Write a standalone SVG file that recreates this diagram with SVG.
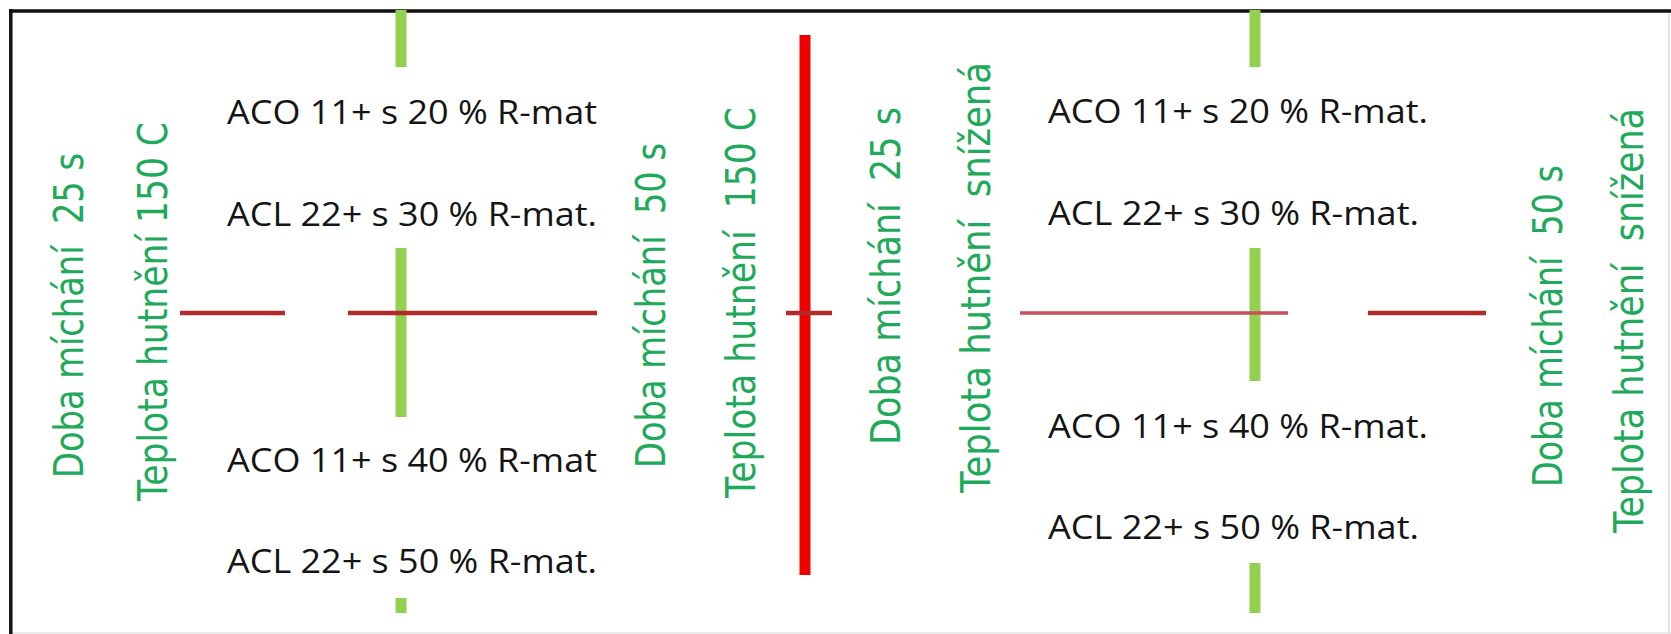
<svg xmlns="http://www.w3.org/2000/svg" width="1671" height="634" viewBox="0 0 1671 634">
  <style>
    .lbl { font-family: "Open Sans", "Liberation Sans", sans-serif; font-size: 32.5px; fill: #141414; }
    .vt { font-family: "DejaVu Sans", Verdana, sans-serif; font-size: 34px; fill: #1eaa5a; }
    .gbar { stroke: #92d050; stroke-width: 11; fill: none; }
    .rthin { stroke: #b22b2b; stroke-width: 4.5; fill: none; }
    .rlight { stroke: #c8505a; stroke-width: 3.5; fill: none; }
    .rthick { stroke: #ee0000; stroke-width: 11; fill: none; }
  </style>
  <rect x="0" y="0" width="1671" height="634" fill="#ffffff"/>
  <g id="frame">
    <line x1="1669" y1="10" x2="1669" y2="634" stroke="#d8d8d8" stroke-width="1.5"/>
    <line x1="10" y1="633" x2="1671" y2="633" stroke="#e4e4e4" stroke-width="1.5"/>
    <line x1="9" y1="11" x2="1671" y2="11" stroke="#111111" stroke-width="3.5"/>
    <line x1="10.8" y1="9" x2="10.8" y2="634" stroke="#111111" stroke-width="3.5"/>
  </g>
  <g id="connectors">
    <line class="gbar" x1="401" y1="10" x2="401" y2="67"/>
    <line class="gbar" x1="401" y1="248" x2="401" y2="417"/>
    <line class="gbar" x1="401" y1="598" x2="401" y2="613"/>
    <line class="gbar" x1="1255" y1="10" x2="1255" y2="67"/>
    <line class="gbar" x1="1255" y1="248" x2="1255" y2="381"/>
    <line class="gbar" x1="1255" y1="563" x2="1255" y2="613"/>
    <line class="rthin" x1="180" y1="313" x2="285" y2="313"/>
    <line class="rthin" x1="348" y1="313" x2="597" y2="313"/>
    <line class="rthick" x1="805" y1="35" x2="805" y2="575"/>
    <line class="rthin" x1="786" y1="313" x2="832" y2="313"/>
    <line class="rlight" x1="1020" y1="313" x2="1288" y2="313"/>
    <line class="rthin" x1="1368" y1="313" x2="1486" y2="313" stroke-width="4"/>
  </g>
  <g id="left-block">
    <text class="lbl" x="227" y="124" textLength="370" lengthAdjust="spacingAndGlyphs">ACO 11+ s 20 % R-mat</text>
    <text class="lbl" x="227" y="226" textLength="370" lengthAdjust="spacingAndGlyphs">ACL 22+ s 30 % R-mat.</text>
    <text class="lbl" x="227" y="472" textLength="370" lengthAdjust="spacingAndGlyphs">ACO 11+ s 40 % R-mat</text>
    <text class="lbl" x="227" y="573" textLength="370" lengthAdjust="spacingAndGlyphs">ACL 22+ s 50 % R-mat.</text>
  </g>
  <g id="right-block">
    <text class="lbl" x="1048" y="123" textLength="380" lengthAdjust="spacingAndGlyphs">ACO 11+ s 20 % R-mat.</text>
    <text class="lbl" x="1048" y="225" textLength="371" lengthAdjust="spacingAndGlyphs">ACL 22+ s 30 % R-mat.</text>
    <text class="lbl" x="1048" y="438" textLength="380" lengthAdjust="spacingAndGlyphs">ACO 11+ s 40 % R-mat.</text>
    <text class="lbl" x="1048" y="539" textLength="371" lengthAdjust="spacingAndGlyphs">ACL 22+ s 50 % R-mat.</text>
  </g>
  <g id="label-left-doba">
    <text class="vt" transform="matrix(0,-1,1.18,0,83,478)" textLength="325" lengthAdjust="spacingAndGlyphs" xml:space="preserve">Doba míchání  25 s</text>
  </g>
  <g id="label-left-teplota">
    <text class="vt" transform="matrix(0,-1,1.18,0,167,501)" textLength="379" lengthAdjust="spacingAndGlyphs">Teplota hutnění 150 C</text>
  </g>
  <g id="label-mid-doba50">
    <text class="vt" transform="matrix(0,-1,1.18,0,665,468)" textLength="325" lengthAdjust="spacingAndGlyphs" xml:space="preserve">Doba míchání  50 s</text>
  </g>
  <g id="label-mid-teplota150">
    <text class="vt" transform="matrix(0,-1,1.18,0,755,498)" textLength="391" lengthAdjust="spacingAndGlyphs" xml:space="preserve">Teplota hutnění  150 C</text>
  </g>
  <g id="label-mid-doba25">
    <text class="vt" transform="matrix(0,-1,1.18,0,900,445)" textLength="338" lengthAdjust="spacingAndGlyphs" xml:space="preserve">Doba míchání  25 s</text>
  </g>
  <g id="label-mid-teplota-snizena">
    <text class="vt" transform="matrix(0,-1,1.18,0,990,493)" textLength="431" lengthAdjust="spacingAndGlyphs" xml:space="preserve">Teplota hutnění  snížená</text>
  </g>
  <g id="label-right-doba50">
    <text class="vt" transform="matrix(0,-1,1.18,0,1562,487)" textLength="322" lengthAdjust="spacingAndGlyphs" xml:space="preserve">Doba míchání  50 s</text>
  </g>
  <g id="label-right-teplota-snizena">
    <text class="vt" transform="matrix(0,-1,1.18,0,1643,533)" textLength="425" lengthAdjust="spacingAndGlyphs" xml:space="preserve">Teplota hutnění  snížená</text>
  </g>
</svg>
